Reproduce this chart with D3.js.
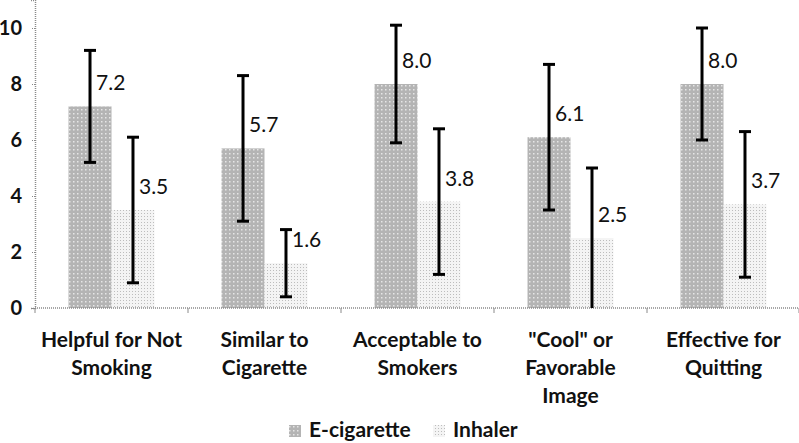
<!DOCTYPE html>
<html><head><meta charset="utf-8">
<script src="https://cdn.jsdelivr.net/npm/d3@7"></script>
<style>body{margin:0;background:#fff}svg{display:block}</style>
</head><body><svg id="c" width="799" height="443"></svg>
<script>
const categories = [["Helpful for Not","Smoking"],["Similar to","Cigarette"],["Acceptable to","Smokers"],["\"Cool\" or","Favorable","Image"],["Effective for","Quitting"]];
const seriesNames = ["E-cigarette","Inhaler"];
const ecigValues = [7.2, 5.7, 8.0, 6.1, 8.0];
const ecigErrors = [2.0, 2.6, 2.1, 2.6, 2.0];
const inhalerValues = [3.5, 1.6, 3.8, 2.5, 3.7];
const inhalerErrors = [2.6, 1.2, 2.6, 2.5, 2.6];
const yTicks = [0, 2, 4, 6, 8, 10];

(function(){
const svg = d3.select("#c");
const mLeft = 35, mRight = 800, mTop = 0, mBottom = 308;
const font = "Lato, 'Open Sans', sans-serif";

const defs = svg.append("defs");
const p1 = defs.append("pattern").attr("id","pE").attr("patternUnits","userSpaceOnUse").attr("width",4).attr("height",4);
p1.append("rect").attr("width",4).attr("height",4).attr("fill","#b4b4b4");
p1.append("rect").attr("x",1).attr("y",1).attr("width",1.5).attr("height",1.5).attr("fill","#e6e6e6");
const p2 = defs.append("pattern").attr("id","pI").attr("patternUnits","userSpaceOnUse").attr("width",3).attr("height",3);
p2.append("rect").attr("width",3).attr("height",3).attr("fill","#f4f4f4");
p2.append("rect").attr("x",0).attr("y",0).attr("width",1).attr("height",1).attr("fill","#bdbdbd");
const fills = ["url(#pE)","url(#pI)"];

const idx = d3.range(categories.length);
const x0 = d3.scaleBand().domain(idx).range([mLeft, mRight]).padding(0);
const x1 = d3.scaleBand().domain([0,1]).range([0, x0.bandwidth()]).paddingInner(0).paddingOuter(0.78);
const y = d3.scaleLinear().domain([0, 11]).range([mBottom, mTop]);

const data = [];
idx.forEach(i => {
  data.push({c:i, s:0, v:ecigValues[i], e:ecigErrors[i]});
  data.push({c:i, s:1, v:inhalerValues[i], e:inhalerErrors[i]});
});

svg.append("g").selectAll("rect").data(data).join("rect")
  .attr("x", d => x0(d.c) + x1(d.s))
  .attr("width", x1.bandwidth())
  .attr("y", d => y(d.v))
  .attr("height", d => y(0) - y(d.v))
  .attr("fill", d => fills[d.s]);

const ya = svg.append("g").attr("transform", `translate(${mLeft},0)`)
  .call(d3.axisLeft(y).tickValues(yTicks).tickSize(4).tickPadding(9).tickFormat(d3.format("d")));
ya.select(".domain").attr("stroke","#8a8a8a").attr("stroke-width",1.5).attr("stroke-dasharray","1,1");
ya.selectAll(".tick line").attr("stroke","#8a8a8a").attr("stroke-dasharray","1,1");
ya.selectAll(".tick text").attr("font-family",font).attr("font-size",20).attr("font-weight","bold").attr("fill","#111");

const xa = svg.append("g").attr("transform", `translate(0,${mBottom})`);
xa.append("line").attr("x1", mLeft).attr("x2", mRight).attr("stroke","#8a8a8a").attr("stroke-width",1.5).attr("stroke-dasharray","1,1");
xa.selectAll("line.t").data(d3.range(categories.length + 1)).join("line").attr("class","t")
  .attr("x1", i => i < categories.length ? x0(i) : mRight - 1)
  .attr("x2", i => i < categories.length ? x0(i) : mRight - 1)
  .attr("y1", 0).attr("y2", 5).attr("stroke","#8a8a8a");
const lab = xa.selectAll("text").data(idx).join("text")
  .attr("font-family",font).attr("font-size",21).attr("font-weight","bold").attr("fill","#111")
  .attr("text-anchor","middle");
lab.each(function(i){
  d3.select(this).selectAll("tspan").data(categories[i]).join("tspan")
    .attr("x", x0(i) + x0.bandwidth()/2)
    .attr("y", (d,k) => 39 + k*28)
    .text(d => d);
});

const eb = svg.append("g").attr("stroke","#000").attr("stroke-width",3);
data.forEach(d => {
  const cx = x0(d.c) + x1(d.s) + x1.bandwidth()/2;
  const y1 = y(d.v + d.e), y2 = y(Math.max(0, d.v - d.e));
  eb.append("line").attr("x1",cx).attr("x2",cx).attr("y1",y1).attr("y2",y2);
  eb.append("line").attr("x1",cx-6).attr("x2",cx+6).attr("y1",y1).attr("y2",y1);
  if (d.v - d.e > 0) eb.append("line").attr("x1",cx-6).attr("x2",cx+6).attr("y1",y2).attr("y2",y2);
});

svg.append("g").selectAll("text").data(data).join("text")
  .attr("x", d => x0(d.c) + x1(d.s) + x1.bandwidth()/2 + 6)
  .attr("y", d => y(d.v) - 16)
  .attr("font-family",font).attr("font-size",21).attr("fill","#111")
  .text(d => d3.format(".1f")(d.v));

const lg = svg.append("g").attr("transform","translate(0,437)");
const lx = [289, 433];
seriesNames.forEach((n, k) => {
  lg.append("rect").attr("x", lx[k]).attr("y", -12).attr("width", 12).attr("height", 12).attr("fill", fills[k]);
  lg.append("text").attr("x", lx[k] + 20).attr("y", 0)
    .attr("font-family",font).attr("font-size",21).attr("font-weight","bold").attr("fill","#111").text(n);
});
})();
</script></body></html>
